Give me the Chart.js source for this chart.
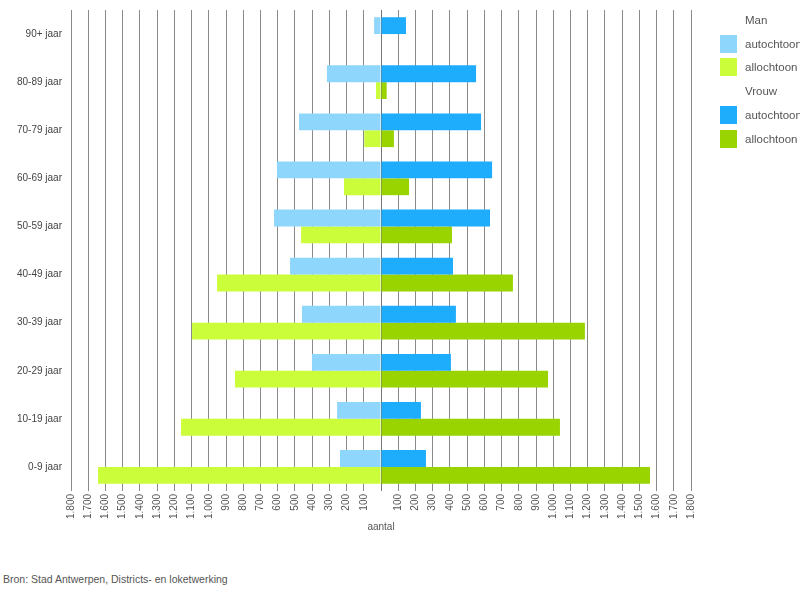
<!DOCTYPE html>
<html lang="nl">
<head>
    <meta charset="UTF-8">
    <title>Bevolking naar leeftijd en herkomst</title>
    <script src="https://cdn.jsdelivr.net/npm/chart.js"></script>
    <style>
        body {
            margin: 0;
            background: #fff;
            font-family: 'Liberation Sans', Arial, sans-serif;
        }

        .wrap {
            position: relative;
            width: 800px;
            height: 600px;
        }

        .chart-box {
            position: absolute;
            left: 0;
            top: 0;
            width: 800px;
            height: 540px;
        }

        #legend {
            position: absolute;
            left: 720px;
            top: 8px;
            margin: 0;
            padding: 0;
            list-style: none;
            font-size: 11.5px;
            color: #555;
        }

        #legend li {
            height: 23.8px;
            display: flex;
            align-items: center;
        }

        #legend .box {
            width: 17px;
            height: 18px;
            margin-right: 8px;
        }

        #legend .head {
            padding-left: 25px;
        }

        .source {
            position: absolute;
            left: 3px;
            top: 573px;
            font-size: 10.5px;
            color: #555;
        }
    </style>
</head>
<body>

<div class="wrap">
    <div class="chart-box">
        <canvas id="pyramid"></canvas>
    </div>
    <ul id="legend"></ul>
    <div class="source">Bron: Stad Antwerpen, Districts- en loketwerking</div>
</div>

<script>
    const ageGroups = ['90+ jaar', '80-89 jaar', '70-79 jaar', '60-69 jaar', '50-59 jaar',
        '40-49 jaar', '30-39 jaar', '20-29 jaar', '10-19 jaar', '0-9 jaar'];

    const manAutochtoon = [40, 314, 476, 604, 621, 528, 459, 401, 255, 238];
    const manAllochtoon = [0, 29, 97, 215, 464, 952, 1097, 848, 1161, 1643];
    const vrouwAutochtoon = [145, 552, 581, 645, 633, 418, 435, 406, 232, 261];
    const vrouwAllochtoon = [0, 33, 75, 163, 412, 766, 1184, 970, 1039, 1562];

    const axisMin = -1800;
    const axisMax = 1800;
    const axisStep = 100;

    const colors = {
        manAuto: '#8fd6fd',
        manAllo: '#ccfd3a',
        vrouwAuto: '#1eacfd',
        vrouwAllo: '#9ad400'
    };

    // 1.800 style labels, no sign, no label at zero
    function formatTick(value) {
        if (value === 0) return '';
        return String(Math.abs(value)).replace(/\B(?=(\d{3})+(?!\d))/g, '.');
    }

    const labelFont = "'Liberation Sans', Arial, sans-serif";

    // legend groups: header text followed by the datasets that belong to it
    const legendGroups = [
        { title: 'Man', items: [0, 1] },
        { title: 'Vrouw', items: [2, 3] }
    ];

    const htmlLegend = {
        id: 'htmlLegend',
        afterUpdate(chart) {
            const ul = document.getElementById('legend');
            ul.innerHTML = '';
            const items = chart.options.plugins.legend.labels.generateLabels(chart);
            legendGroups.forEach(group => {
                const head = document.createElement('li');
                const span = document.createElement('span');
                span.className = 'head';
                span.textContent = group.title;
                head.appendChild(span);
                ul.appendChild(head);
                group.items.forEach(i => {
                    const item = items[i];
                    const li = document.createElement('li');
                    const box = document.createElement('span');
                    box.className = 'box';
                    box.style.background = item.fillStyle;
                    const txt = document.createElement('span');
                    txt.textContent = item.text;
                    li.appendChild(box);
                    li.appendChild(txt);
                    ul.appendChild(li);
                });
            });
        }
    };

    const ctx = document.getElementById('pyramid').getContext('2d');

    new Chart(ctx, {
        type: 'bar',
        data: {
            labels: ageGroups,
            datasets: [
                {
                    label: 'autochtoon',
                    data: manAutochtoon.map(v => -v),
                    backgroundColor: colors.manAuto,
                    stack: 'auto'
                },
                {
                    label: 'allochtoon',
                    data: manAllochtoon.map(v => -v),
                    backgroundColor: colors.manAllo,
                    stack: 'allo'
                },
                {
                    label: 'autochtoon',
                    data: vrouwAutochtoon,
                    backgroundColor: colors.vrouwAuto,
                    stack: 'auto'
                },
                {
                    label: 'allochtoon',
                    data: vrouwAllochtoon,
                    backgroundColor: colors.vrouwAllo,
                    stack: 'allo'
                }
            ]
        },
        options: {
            indexAxis: 'y',
            responsive: true,
            maintainAspectRatio: false,
            animation: false,
            categoryPercentage: 0.7,
            barPercentage: 1,
            layout: {
                padding: { top: 10, right: 109, left: 0, bottom: 0 }
            },
            plugins: {
                legend: { display: false },
                tooltip: { enabled: false }
            },
            scales: {
                x: {
                    stacked: true,
                    min: axisMin,
                    max: axisMax,
                    border: { display: false },
                    grid: {
                        color: '#8a8a8a',
                        drawTicks: false
                    },
                    ticks: {
                        stepSize: axisStep,
                        autoSkip: false,
                        maxRotation: 90,
                        minRotation: 90,
                        padding: 3,
                        color: '#555',
                        font: { family: labelFont, size: 10 },
                        callback: formatTick
                    },
                    title: {
                        display: true,
                        text: 'aantal',
                        color: '#555',
                        font: { family: labelFont, size: 10 },
                        padding: { top: 0, bottom: 7 }
                    },
                    afterFit(scale) {
                        scale.height = 49;
                    }
                },
                // only the zero line, drawn over the bars
                x2: {
                    position: 'top',
                    min: axisMin,
                    max: axisMax,
                    z: 1,
                    border: { display: false },
                    grid: {
                        drawTicks: false,
                        color: c => (c.tick && c.tick.value === 0) ? '#777' : 'rgba(0,0,0,0)'
                    },
                    ticks: { display: false, stepSize: axisStep },
                    afterFit(scale) {
                        scale.height = 0;
                    }
                },
                y: {
                    stacked: true,
                    border: { display: false },
                    grid: { display: false, drawTicks: false },
                    ticks: {
                        padding: 9,
                        color: '#444',
                        font: { family: labelFont, size: 10 }
                    },
                    afterFit(scale) {
                        scale.width = 71;
                        scale.paddingTop = 0;
                        scale.paddingBottom = 0;
                    }
                }
            }
        },
        plugins: [htmlLegend]
    });
</script>

</body>
</html>
